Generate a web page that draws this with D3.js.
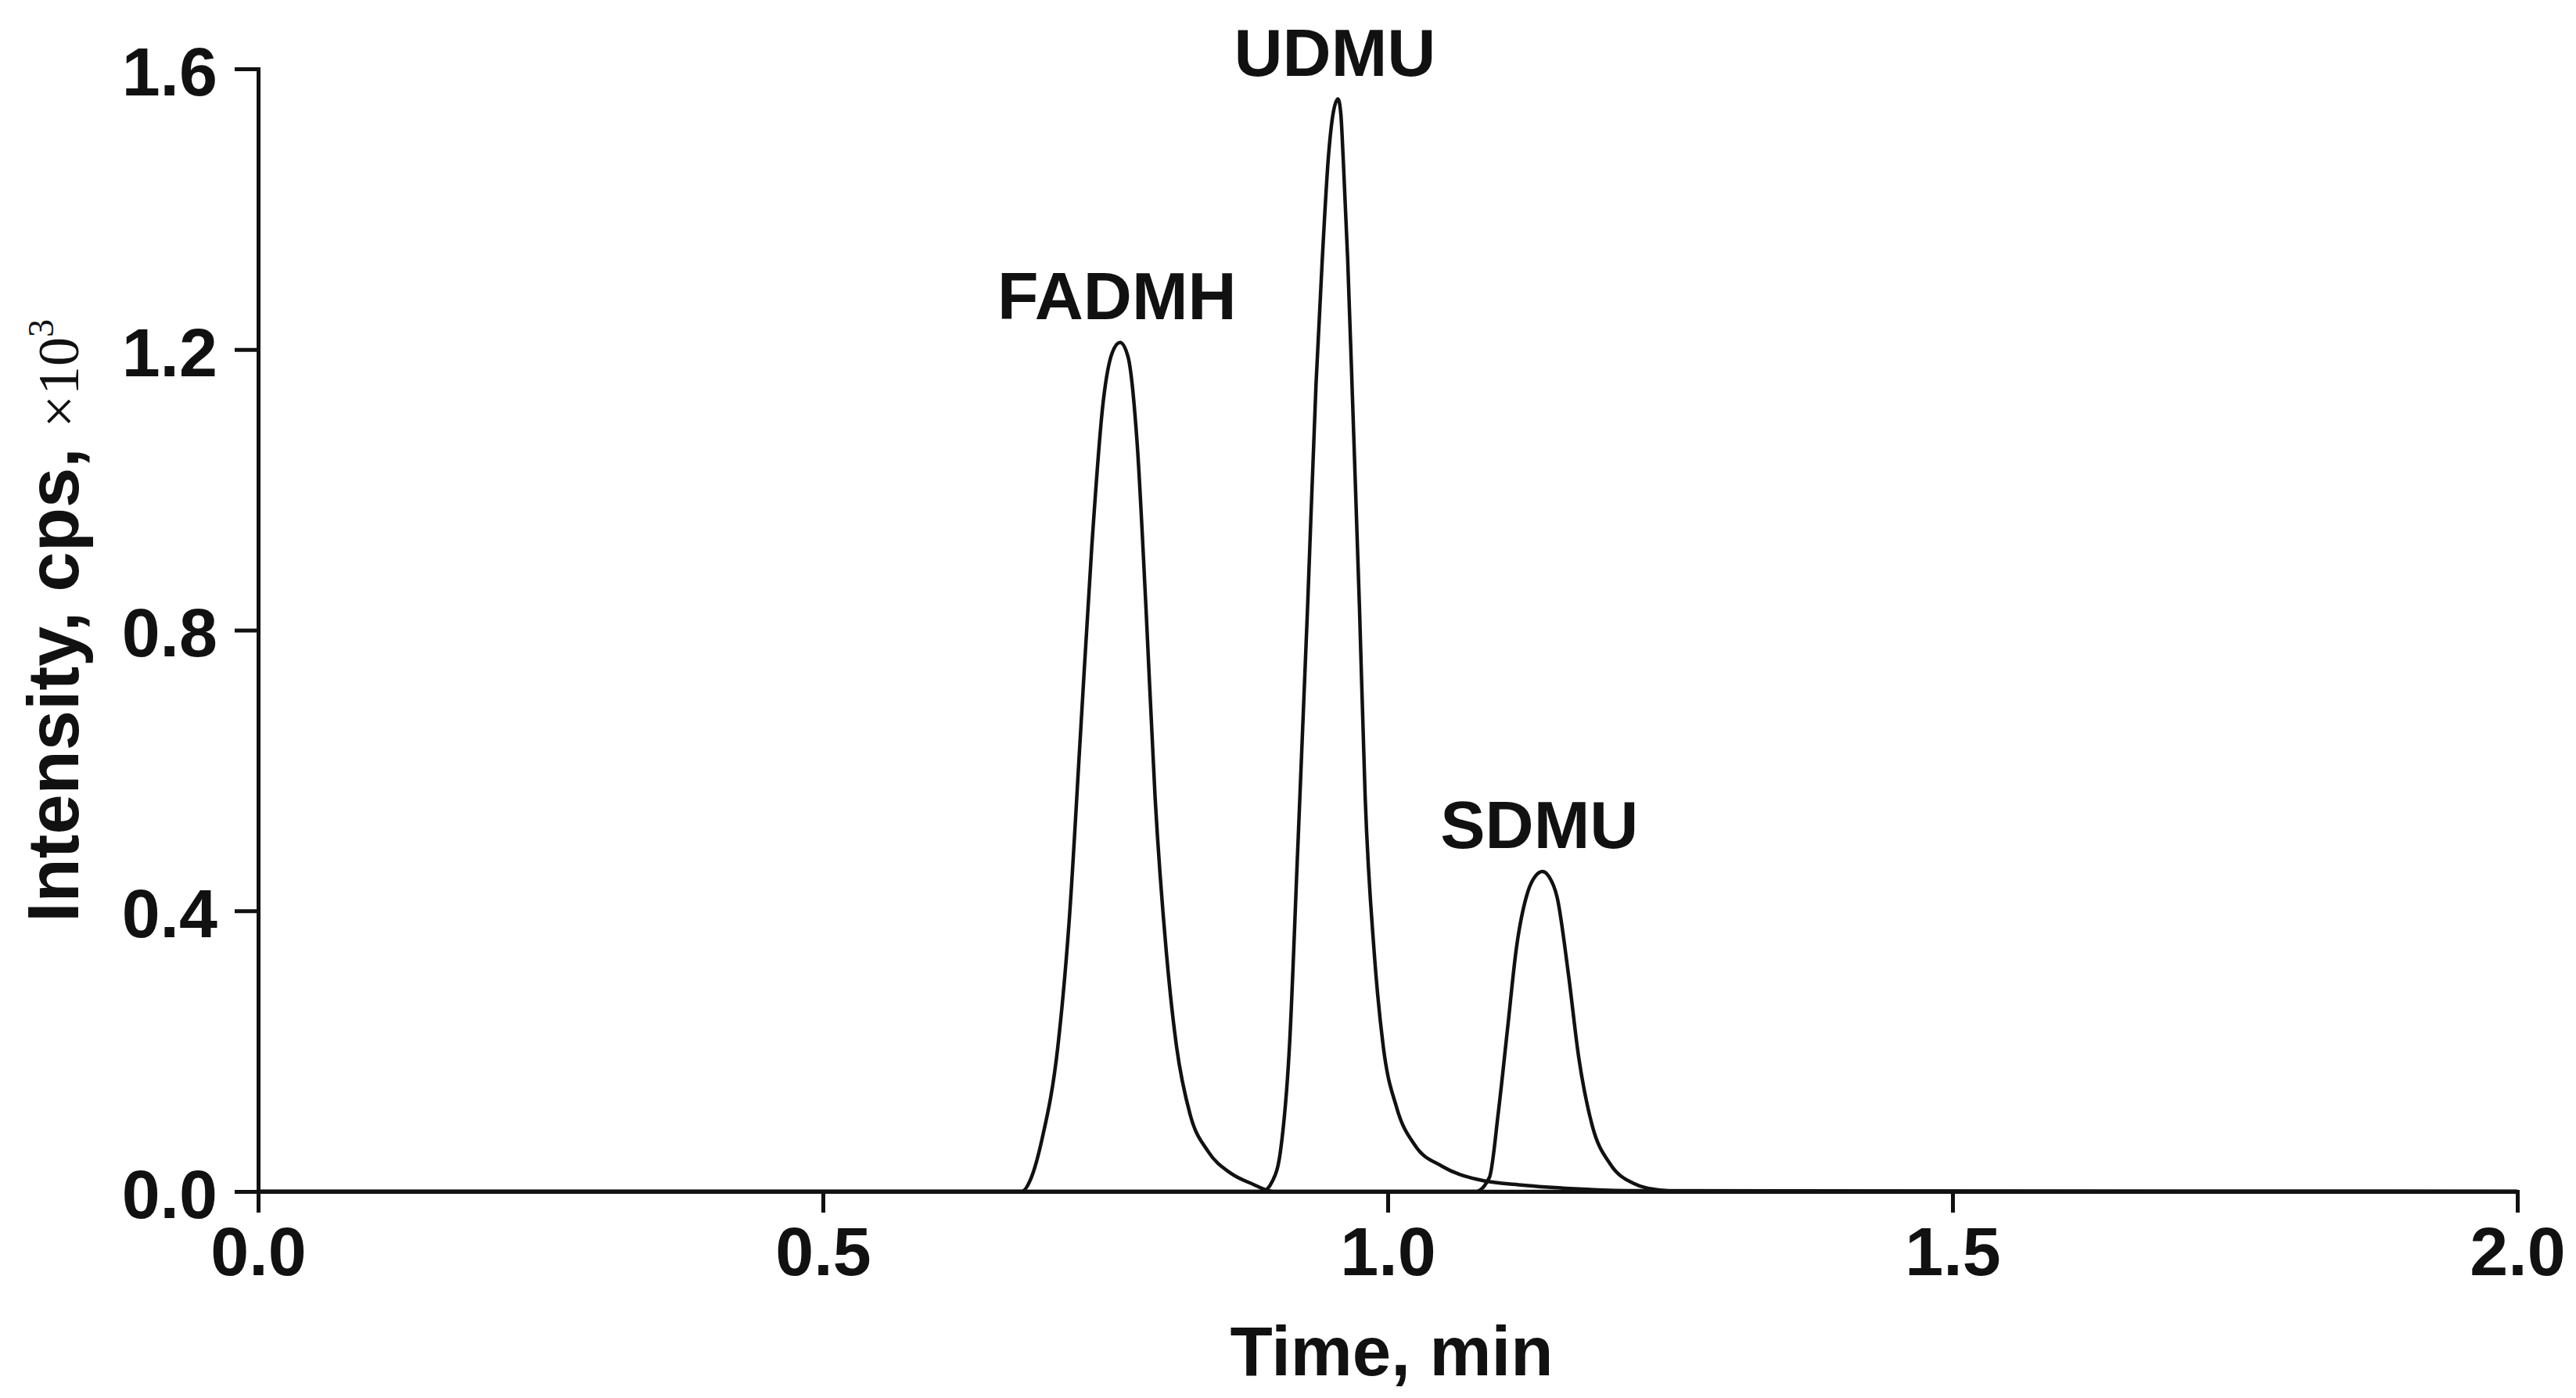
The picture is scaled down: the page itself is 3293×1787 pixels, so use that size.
<!DOCTYPE html>
<html>
<head>
<meta charset="utf-8">
<script src="https://cdn.jsdelivr.net/npm/d3@7"></script>
<style>
  html, body { margin: 0; padding: 0; background: #fff; }
  svg { display: block; }
</style>
</head>
<body>
<svg id="chart" width="3293" height="1787"></svg>
<script>
// ---------- data ----------
const xTicks = [0.0, 0.5, 1.0, 1.5, 2.0];
const yTicks = [0.0, 0.4, 0.8, 1.2, 1.6];
const xTitle = "Time, min";
const yTitleMain = "Intensity, cps, ";
const yTitleUnit = "×10";
const yTitleExp = "3";

const fadmhTime  = [0, 0.676, 0.684, 0.694, 0.708, 0.718, 0.728, 0.738, 0.748, 0.756, 0.763, 0.770, 0.778, 0.786, 0.794, 0.804, 0.813, 0.825, 0.841, 0.861, 0.881, 0.891, 0.900, 2.0];
const fadmhValue = [0, 0,     0.018, 0.075, 0.207, 0.386, 0.652, 0.919, 1.124, 1.195, 1.210, 1.190, 1.070, 0.831, 0.563, 0.341, 0.207, 0.110, 0.057, 0.026, 0.010, 0.003, 0, 0];

const udmuTime  = [0, 0.889, 0.898, 0.905, 0.913, 0.920, 0.929, 0.9365, 0.942, 0.9475, 0.9515, 0.956, 0.9585, 0.9605, 0.9645, 0.969, 0.975, 0.980, 0.988, 0.996, 1.008, 1.024, 1.048, 1.080, 1.120, 1.165, 1.220, 2.0];
const udmuValue = [0, 0,     0.015, 0.057, 0.207, 0.475, 0.831, 1.150,  1.327, 1.475,  1.535,  1.557, 1.535,  1.475,  1.330,  1.120, 0.831, 0.563, 0.341, 0.207, 0.119, 0.066, 0.036, 0.017, 0.009, 0.004, 0.001, 0];

const sdmuTime  = [0, 1.078, 1.090, 1.098, 1.106, 1.114, 1.124, 1.131, 1.137, 1.143, 1.150, 1.160, 1.169, 1.181, 1.197, 1.217, 1.241, 1.260, 2.0];
const sdmuValue = [0, 0,     0.020, 0.114, 0.231, 0.348, 0.427, 0.450, 0.456, 0.448, 0.419, 0.309, 0.192, 0.094, 0.039, 0.012, 0.002, 0, 0];

const seriesNames = ["FADMH", "UDMU", "SDMU"];
const seriesTimes = [fadmhTime, udmuTime, sdmuTime];
const seriesValues = [fadmhValue, udmuValue, sdmuValue];

// ---------- layout ----------
const W = 3293, H = 1787;
const margin = { left: 330, right: 75, top: 88, bottom: 264 };
const font = "'Liberation Sans', Arial, Helvetica, sans-serif";

const svg = d3.select("#chart");
const x = d3.scaleLinear().domain([0, 2]).range([margin.left, W - margin.right]);
const y = d3.scaleLinear().domain([0, 1.6]).range([H - margin.bottom, margin.top]);

// traces
const line = d3.line()
  .x(d => x(d[0]))
  .y(d => y(d[1]))
  .curve(d3.curveMonotoneX);

const series = seriesNames.map((name, i) => ({
  name,
  points: seriesTimes[i].map((t, j) => [t, seriesValues[i][j]])
}));

svg.append("g")
  .selectAll("path")
  .data(series)
  .join("path")
  .attr("d", d => line(d.points))
  .attr("fill", "none")
  .attr("stroke", "#111")
  .attr("stroke-width", 4.5)
  .attr("stroke-linejoin", "round");

// peak labels above apexes
svg.append("g")
  .selectAll("text")
  .data(series)
  .join("text")
  .attr("x", d => { const m = d3.greatestIndex(d.points, p => p[1]); return x(d.points[m][0]) - 4; })
  .attr("y", d => { const m = d3.greatestIndex(d.points, p => p[1]); return y(d.points[m][1]) - 30; })
  .attr("text-anchor", "middle")
  .attr("font-family", font)
  .attr("font-weight", "bold")
  .attr("font-size", 86)
  .attr("fill", "#111")
  .text(d => d.name);

// axes
const xAxis = d3.axisBottom(x)
  .tickValues(xTicks)
  .tickFormat(d3.format(".1f"))
  .tickSize(27)
  .tickSizeOuter(0)
  .tickPadding(18);

const yAxis = d3.axisLeft(y)
  .tickValues(yTicks)
  .tickFormat(d3.format(".1f"))
  .tickSize(30)
  .tickSizeOuter(0)
  .tickPadding(22);

const gx = svg.append("g")
  .attr("transform", `translate(0,${H - margin.bottom})`)
  .call(xAxis);
const gy = svg.append("g")
  .attr("transform", `translate(${margin.left},0)`)
  .call(yAxis);

[gx, gy].forEach(g => {
  g.selectAll("path.domain").attr("stroke", "#111").attr("stroke-width", 5).attr("stroke-linecap", "square");
  g.selectAll(".tick line").attr("stroke", "#111").attr("stroke-width", 5);
  g.selectAll(".tick text")
    .attr("font-family", font)
    .attr("font-weight", "bold")
    .attr("font-size", 88)
    .attr("fill", "#111");
});
gy.selectAll(".tick text").attr("dy", "0.38em");

// x title
svg.append("text")
  .attr("x", (x(0) + x(2)) / 2 + 5)
  .attr("y", 1758)
  .attr("text-anchor", "middle")
  .attr("font-family", font)
  .attr("font-weight", "bold")
  .attr("font-size", 89)
  .attr("textLength", 413)
  .attr("lengthAdjust", "spacingAndGlyphs")
  .attr("fill", "#111")
  .text(xTitle);

// y title
const yt = svg.append("text")
  .attr("transform", "translate(100,1179) rotate(-90)")
  .attr("text-anchor", "start")
  .attr("fill", "#111");
yt.append("tspan")
  .attr("font-family", font)
  .attr("font-weight", "bold")
  .attr("font-size", 92)
  .text(yTitleMain);
yt.append("tspan")
  .attr("font-family", "'Liberation Serif', 'Times New Roman', serif")
  .attr("font-size", 74)
  .text(yTitleUnit);
yt.append("tspan")
  .attr("font-family", "'Liberation Serif', 'Times New Roman', serif")
  .attr("font-size", 46)
  .attr("dy", -32)
  .text(yTitleExp);
</script>
</body>
</html>
